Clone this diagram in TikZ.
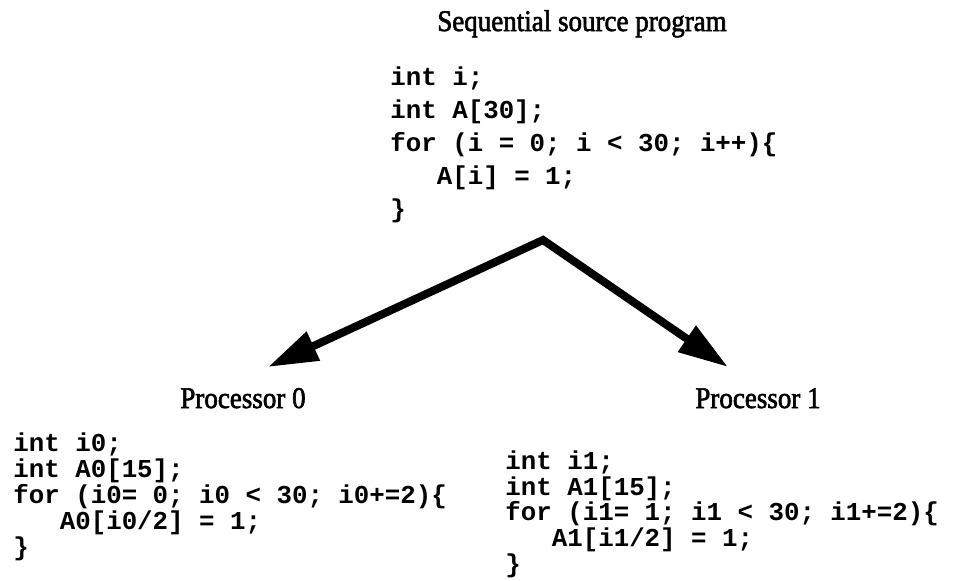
\documentclass[tikz,border=0pt]{standalone}
\usepackage{fontspec}
\newfontfamily\codefont{Liberation Mono}
\newfontfamily\labelfont[FakeStretch=0.9,FakeBold=2]{Liberation Serif}
\usetikzlibrary{arrows.meta}
\tikzset{
  code/.style={align=left, inner sep=0pt, anchor=base west,
               font=\codefont\bfseries\fontsize{12.9}{#1}\selectfont},
  code/.default=13,
  caption/.style={inner sep=0pt, anchor=base,
                  font=\labelfont\fontsize{15}{17}\selectfont},
  splitarrow/.style={{Triangle[length=25pt,width=15pt]}-{Triangle[length=25pt,width=15pt]},
                     line width=4pt, line join=miter},
}
\newcommand{\ind}{\phantom{for}}

\begin{document}
\begin{tikzpicture}[x=0.5pt, y=-0.5pt]
  \useasboundingbox (0,0) rectangle (978,580);

  % sequential program (anchored at its last line)
  \node[caption] (seqtitle) at (582,31) {Sequential source program};
  \node[code=16.5] (seqcode) at (390,217) {int i;\\
    int A[30];\\
    for (i = 0; i < 30; i++)\{\\
    \ind A[i] = 1;\\
    \}};

  % split into two processors
  \coordinate (split) at (543,240);
  \coordinate (tip0) at (268,367);
  \coordinate (tip1) at (728,367);
  \draw[splitarrow] (tip0) -- (split) -- (tip1);

  % processor 0
  \node[caption] (proc0) at (243,408) {Processor 0};
  \node[code=13] (code0) at (13,555) {int i0;\\
    int A0[15];\\
    for (i0= 0; i0 < 30; i0+=2)\{\\
    \ind A0[i0/2] = 1;\\
    \}};

  % processor 1
  \node[caption] (proc1) at (758,408) {Processor 1};
  \node[code=12.8] (code1) at (505,572) {int i1;\\
    int A1[15];\\
    for (i1= 1; i1 < 30; i1+=2)\{\\
    \ind A1[i1/2] = 1;\\
    \}};
\end{tikzpicture}
\end{document}
